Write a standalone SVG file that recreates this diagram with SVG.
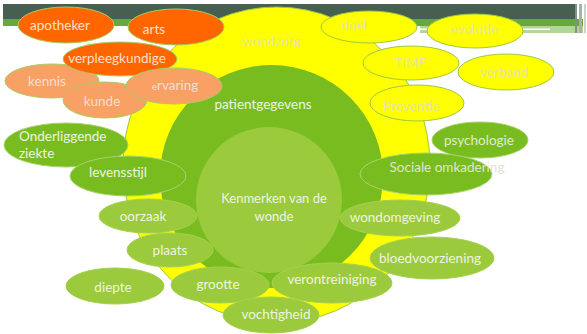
<svg xmlns="http://www.w3.org/2000/svg" width="587" height="334" viewBox="0 0 587 334">
<defs>
<style>
text{font-family:"Lato","Open Sans","Liberation Sans",sans-serif;font-size:13.5px;text-anchor:middle}
.or{fill:#FF6600;stroke:#A6CE62;stroke-width:1}
.lo{fill:#F9A065;stroke:#A6CE62;stroke-width:1}
.ye{fill:#FFFF00;stroke:#9CC93E;stroke-width:1}
.dg{fill:#78BC20;stroke:#A9D36A;stroke-width:1}
.lg{fill:#9BCA3C;stroke:#A6D14E;stroke-width:1}
.tor{fill:#FBE0CB}
.tlo{fill:#F5DECB}
.tye{fill:#E6E6A2}
.tg{fill:#EEF4E2}
</style>
<clipPath id="pclip"><rect x="370" y="85" width="72" height="36"/></clipPath>
</defs>
<g id="header">
<rect x="3" y="4" width="574" height="15" fill="#465F50"/>
<rect x="3" y="19" width="580" height="7" fill="#68A83A"/>
<rect x="420" y="26" width="163" height="7" fill="#B2D59A"/>
<rect x="400" y="28.5" width="150" height="1.6" fill="#FFFFFF"/>
<rect x="575" y="4" width="2" height="29" fill="#7E9286"/>
<rect x="579" y="4" width="3" height="29" fill="#A3B4A8"/>
<rect x="584" y="4" width="2" height="29" fill="#CBD5CE"/>
</g>
<g id="wondzorg">
<ellipse cx="276.5" cy="165" rx="153.5" ry="158" fill="#FFFF00" stroke="#9CC93E" stroke-width="1"/>
<text x="271" y="46" class="tye">wondzorg</text>
</g>
<g id="patientgegevens">
<circle cx="271.5" cy="176.5" r="111.5" fill="#78BC20"/>
<text x="263" y="109" class="tg">patientgegevens</text>
</g>
<g id="kenmerken">
<circle cx="269" cy="200" r="73" fill="#9BCA3C"/>
<text x="274" y="203" class="tg" style="font-size:13px">Kenmerken van de</text>
<text x="274" y="221" class="tg" style="font-size:13px">wonde</text>
</g>
<g id="onderliggende-ziekte"><ellipse cx="66" cy="145" rx="62" ry="22" class="dg"/><text x="19" y="141" class="tg" style="text-anchor:start">Onderliggende</text><text x="19" y="158" class="tg" style="text-anchor:start">ziekte</text></g>
<g id="levensstijl"><ellipse cx="128" cy="176" rx="58" ry="20" class="dg"/><text x="118" y="177" class="tg">levensstijl</text></g>
<g id="oorzaak"><ellipse cx="148" cy="216" rx="49" ry="17" class="lg"/><text x="143" y="221" class="tg">oorzaak</text></g>
<g id="plaats"><ellipse cx="170" cy="250" rx="43" ry="17" class="lg"/><text x="170" y="255" class="tg">plaats</text></g>
<g id="diepte"><ellipse cx="115" cy="286" rx="49" ry="18" class="lg"/><text x="113" y="292" class="tg">diepte</text></g>
<g id="grootte"><ellipse cx="220" cy="285" rx="49" ry="18" class="lg"/><text x="218" y="289" class="tg">grootte</text></g>
<g id="vochtigheid"><ellipse cx="271" cy="315" rx="48" ry="18" class="lg"/><text x="276" y="319" class="tg">vochtigheid</text></g>
<g id="verontreiniging"><ellipse cx="332" cy="283" rx="60" ry="20" class="lg"/><text x="332" y="284" class="tg">verontreiniging</text></g>
<g id="bloedvoorziening"><ellipse cx="432" cy="258" rx="62" ry="21" class="lg"/><text x="430" y="263" class="tg">bloedvoorziening</text></g>
<g id="wondomgeving"><ellipse cx="400" cy="218" rx="60" ry="18" class="lg"/><text x="395" y="222" class="tg">wondomgeving</text></g>
<g id="psychologie"><ellipse cx="480" cy="140" rx="48" ry="18" class="dg"/><text x="479" y="145" class="tg" style="fill:#E2EBD0">psychologie</text></g>
<g id="sociale-omkadering"><ellipse cx="426" cy="174" rx="66" ry="21" class="dg"/><text x="447" y="172" style="fill:#E0E5D2">Sociale omkadering</text></g>
<g id="doel"><ellipse cx="369" cy="27" rx="48" ry="16" class="ye"/><text x="354" y="30" class="tye">doel</text></g>
<g id="evolutie"><ellipse cx="475" cy="31" rx="48" ry="17" class="ye"/><text x="474" y="34" class="tye">evolutie</text></g>
<g id="time"><ellipse cx="411" cy="63" rx="48" ry="17" class="ye"/><text x="410" y="68" class="tye">TIME</text></g>
<g id="verband"><ellipse cx="506" cy="72" rx="48" ry="18" class="ye"/><text x="504" y="77" class="tye">verband</text></g>
<g id="preventie"><ellipse cx="417" cy="103" rx="47" ry="18" class="ye"/><text x="383" y="111" class="tye" style="text-anchor:start" clip-path="url(#pclip)">Preventie</text></g>
<g id="apotheker"><ellipse cx="66" cy="25" rx="48" ry="18" class="or"/><text x="60" y="30" class="tor">apotheker</text></g>
<g id="arts"><ellipse cx="176" cy="27" rx="48" ry="18" class="or"/><text x="154" y="34" class="tor">arts</text></g>
<g id="kennis"><ellipse cx="52" cy="81" rx="47" ry="17" class="lo"/><text x="47" y="86" class="tlo">kennis</text></g>
<g id="verpleegkundige"><ellipse cx="120" cy="59" rx="57" ry="17" class="or"/><text x="117" y="63" class="tor">verpleegkundige</text></g>
<g id="kunde"><ellipse cx="105" cy="100" rx="42" ry="18" class="lo"/><text x="102" y="106" class="tlo">kunde</text></g>
<g id="ervaring"><ellipse cx="174" cy="86" rx="48" ry="18" class="lo"/><text x="175" y="90" class="tlo"><tspan style="font-size:10px">e</tspan>rvaring</text></g>
</svg>
